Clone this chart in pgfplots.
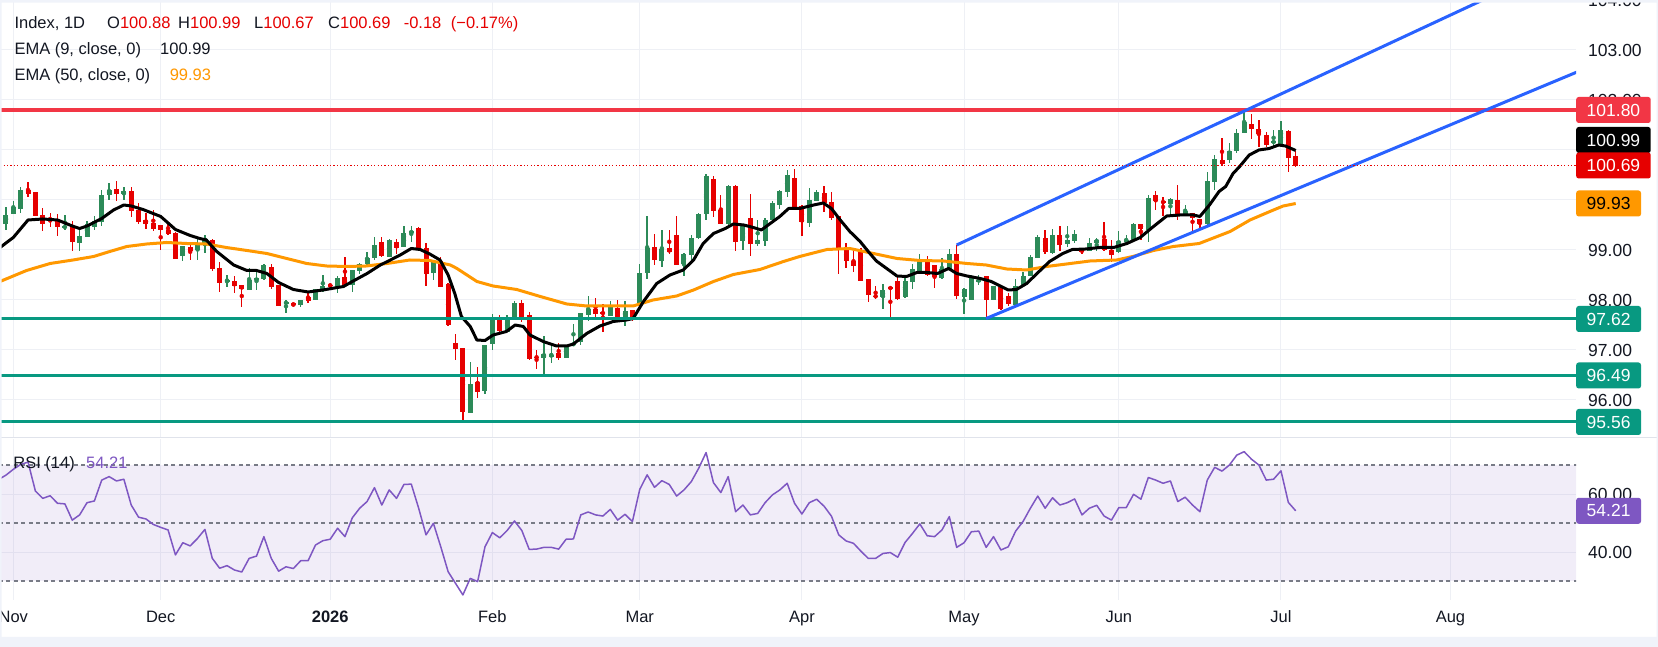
\documentclass[border=0pt]{standalone}
\usepackage{fontspec}
\setmainfont{Liberation Sans}
\usepackage{pgfplots}
\usepackage{pgfplotstable}
\pgfplotsset{compat=1.18}

\definecolor{upc}{RGB}{44,138,88}
\definecolor{dnc}{RGB}{230,0,0}
\definecolor{ema50}{RGB}{255,152,0}
\definecolor{chan}{RGB}{41,98,255}
\definecolor{resist}{RGB}{242,54,69}
\definecolor{supp}{RGB}{8,153,129}
\definecolor{rsic}{RGB}{126,87,194}
\definecolor{gridc}{RGB}{238,240,245}
\definecolor{txt}{RGB}{19,23,34}
\definecolor{framec}{RGB}{240,243,250}
\definecolor{sepc}{RGB}{224,227,235}
\definecolor{bandline}{RGB}{120,123,134}

% daily bars: x = trading-day index (0 = 3 Nov 2025)
\pgfplotstableread{
x o h l c
-1 99.52 99.85 99.40 99.70
0 99.72 99.99 99.72 99.87
1 99.82 100.25 99.73 100.20
2 100.20 100.35 100.05 100.12
3 100.16 100.16 99.67 99.68
4 99.70 99.85 99.39 99.53
5 99.63 99.73 99.45 99.61
6 99.62 99.72 99.28 99.47
7 99.45 99.70 99.40 99.47
8 99.48 99.58 98.99 99.15
9 99.15 99.40 98.99 99.28
10 99.27 99.57 99.25 99.52
11 99.47 99.67 99.40 99.58
12 99.57 100.21 99.48 100.10
13 100.10 100.35 100.01 100.20
14 100.22 100.38 99.98 100.13
15 100.11 100.27 100.00 100.18
16 100.18 100.25 99.65 99.78
17 99.81 99.95 99.53 99.57
18 99.60 99.73 99.41 99.52
19 99.55 99.80 99.37 99.43
20 99.49 99.50 99.01 99.39
21 99.40 99.57 99.30 99.32
22 99.35 99.35 98.81 98.83
23 98.87 99.07 98.77 99.07
24 99.05 99.13 98.80 98.97
25 98.99 99.23 98.79 99.10
26 99.10 99.30 98.93 99.25
27 99.21 99.23 98.59 98.62
28 98.65 98.75 98.15 98.35
29 98.35 98.51 98.27 98.40
30 98.38 98.48 98.15 98.27
31 98.29 98.29 97.87 98.21
32 98.20 98.63 98.20 98.40
33 98.39 98.57 98.19 98.43
34 98.43 98.73 98.41 98.70
35 98.65 98.72 98.21 98.25
36 98.29 98.30 97.87 97.88
37 97.93 98.00 97.75 97.96
38 97.93 97.94 97.88 97.89
39 97.90 98.01 97.87 98.00
40 98.07 98.17 97.93 97.99
41 98.00 98.23 98.00 98.21
42 98.20 98.50 98.17 98.27
43 98.30 98.31 98.27 98.28
44 98.25 98.48 98.15 98.45
45 98.45 98.87 98.27 98.30
46 98.30 98.61 98.17 98.60
47 98.59 98.75 98.52 98.73
48 98.72 98.97 98.68 98.85
49 98.85 99.25 98.80 99.11
50 99.15 99.25 98.85 98.87
51 98.87 99.21 98.85 99.20
52 99.16 99.23 98.92 99.05
53 99.05 99.48 99.05 99.33
54 99.35 99.48 99.17 99.37
55 99.45 99.47 99.01 99.02
56 99.03 99.13 98.27 98.52
57 98.55 98.77 98.39 98.77
58 98.78 98.87 98.27 98.27
59 98.31 98.33 97.48 97.50
60 97.13 97.33 96.80 97.02
61 97.03 97.03 95.59 95.75
62 95.75 96.77 95.75 96.33
63 96.35 96.65 96.03 96.15
64 96.19 97.11 96.13 97.11
65 97.11 97.72 97.00 97.59
66 97.61 97.70 97.30 97.39
67 97.37 97.71 97.37 97.63
68 97.63 97.97 97.63 97.95
69 97.93 98.01 97.57 97.59
70 97.70 97.75 96.80 96.83
71 96.87 97.00 96.61 96.84
72 96.83 97.27 96.52 96.92
73 96.88 97.07 96.73 96.90
74 96.93 97.15 96.81 96.83
75 96.85 97.10 96.85 97.10
76 97.10 97.53 97.10 97.13
77 97.15 97.73 97.10 97.73
78 97.69 98.07 97.57 97.81
79 97.83 98.05 97.67 97.72
80 97.75 97.93 97.37 97.73
81 97.69 97.97 97.67 97.89
82 97.85 98.00 97.61 97.63
83 97.65 97.97 97.48 97.78
84 97.80 97.81 97.59 97.63
85 97.87 98.73 97.87 98.53
86 98.55 99.68 98.43 99.05
87 99.05 99.32 98.70 98.79
88 98.79 99.40 98.67 99.02
89 99.03 99.40 98.93 98.95
90 99.30 99.68 98.71 98.71
91 98.73 98.95 98.48 98.92
92 98.90 99.30 98.73 99.25
93 99.25 99.75 99.23 99.73
94 99.73 100.52 99.60 100.48
95 100.42 100.47 99.65 99.78
96 99.80 100.10 99.52 99.52
97 99.52 100.30 99.47 100.28
98 100.28 100.30 98.99 99.17
99 99.17 99.52 99.00 99.50
100 99.65 100.13 98.88 99.12
101 99.12 99.60 99.07 99.21
102 99.19 99.63 99.07 99.61
103 99.61 99.97 99.60 99.95
104 99.91 100.20 99.81 100.18
105 100.17 100.60 100.05 100.50
106 100.43 100.62 99.83 99.83
107 99.88 99.90 99.28 99.55
108 99.55 100.23 99.45 100.00
109 99.97 100.19 99.97 100.15
110 100.15 100.28 99.77 99.95
111 99.95 100.15 99.60 99.63
112 99.68 99.68 98.52 99.01
113 99.02 99.13 98.63 98.79
114 98.78 99.00 98.55 98.69
115 99.00 99.03 98.37 98.38
116 98.41 98.41 97.97 98.09
117 98.08 98.28 98.01 98.07
118 98.05 98.33 97.82 98.20
119 98.25 98.28 97.65 98.23
120 98.38 98.47 98.00 98.02
121 98.05 98.47 98.03 98.38
122 98.35 98.72 98.21 98.62
123 98.57 98.92 98.57 98.82
124 98.80 98.88 98.48 98.50
125 98.70 98.70 98.23 98.47
126 98.45 98.85 98.43 98.62
127 98.61 99.03 98.60 98.93
128 98.92 99.10 98.03 98.08
129 98.07 98.25 97.73 98.23
130 98.00 98.50 98.00 98.47
131 98.38 98.50 98.30 98.40
132 98.48 98.48 97.63 98.00
133 98.00 98.28 98.00 98.28
134 98.25 98.25 97.81 97.82
135 98.09 98.13 97.87 97.92
136 97.90 98.43 97.90 98.28
137 98.28 98.57 98.27 98.48
138 98.48 98.90 98.48 98.85
139 98.85 99.30 98.83 99.27
140 99.25 99.40 98.93 98.97
141 98.95 99.42 98.93 99.30
142 99.30 99.48 98.97 99.10
143 99.13 99.48 99.07 99.20
144 99.17 99.40 99.15 99.32
145 99.03 99.05 98.92 98.95
146 98.97 99.23 98.97 99.13
147 99.15 99.23 98.97 99.21
148 99.21 99.55 98.97 98.99
149 98.99 99.19 98.75 98.89
150 98.95 99.38 98.93 99.18
151 99.18 99.30 99.10 99.19
152 99.19 99.53 99.17 99.52
153 99.52 99.53 99.20 99.42
154 99.40 100.10 99.17 100.05
155 100.10 100.19 99.80 99.98
156 99.97 100.05 99.67 99.95
157 99.92 100.03 99.72 100.01
158 100.01 100.30 99.60 99.68
159 99.69 99.90 99.67 99.77
160 99.73 99.75 99.38 99.63
161 99.63 99.63 99.45 99.53
162 99.52 100.57 99.49 100.39
163 100.37 100.90 100.21 100.82
164 100.80 101.25 100.68 100.72
165 100.79 101.15 100.75 100.98
166 100.98 101.42 100.95 101.35
167 101.35 101.77 101.35 101.57
168 101.52 101.73 101.23 101.42
169 101.42 101.59 101.05 101.32
170 101.30 101.37 101.07 101.09
171 101.15 101.41 101.08 101.17
172 101.10 101.58 101.08 101.40
173 101.38 101.40 100.55 100.85
174 100.88 100.99 100.67 100.69
}\ohlc

% EMA(9) of the close
\pgfplotstableread{
x v
-1.8 99.05
0 99.25
2 99.60
4 99.62
6 99.60
8 99.48
9 99.43
10 99.48
12 99.63
13.6 99.80
15 99.90
16 99.88
17.6 99.81
20 99.67
22 99.41
24 99.29
25.3 99.23
26.2 99.20
27.6 98.97
29.9 98.70
31.7 98.59
33 98.59
34.4 98.53
36 98.35
38 98.21
40 98.16
42 98.20
44.8 98.27
46 98.37
48 98.53
49.8 98.70
50.9 98.78
52.5 98.90
54 99.03
55.2 99.01
56.5 98.92
57.9 98.80
59 98.50
59.9 98.13
60.8 97.67
62 97.47
62.9 97.20
64 97.19
65.1 97.30
66.9 97.37
68.1 97.50
69.2 97.47
70.1 97.30
71.9 97.17
73.7 97.08
75.1 97.08
76 97.12
77.8 97.33
79.6 97.48
81.4 97.57
83.2 97.60
84.1 97.63
85.5 97.97
87.3 98.33
89.1 98.50
90.9 98.60
92.3 98.80
93.6 99.13
95 99.33
96.6 99.43
97.7 99.52
99.1 99.50
100.4 99.45
101.5 99.40
102.7 99.53
104 99.67
105.2 99.83
106.7 99.83
108.6 99.90
109.9 99.94
111 99.83
112.2 99.60
113.5 99.37
114.9 99.17
116 98.97
117.1 98.78
118.5 98.63
119.9 98.48
121.2 98.47
122.6 98.55
124 98.55
125.4 98.53
126.9 98.63
128 98.53
129.4 98.48
131.2 98.43
132.7 98.37
133.9 98.28
135 98.20
136.1 98.21
137.5 98.33
138.9 98.53
140.6 98.77
142.4 98.93
143.7 99.01
145.5 99.02
147.4 99.05
149.3 99.05
151.1 99.13
152.9 99.25
154.7 99.47
156.5 99.68
158.3 99.70
160.1 99.70
161 99.67
162.3 99.90
163.6 100.17
164.5 100.27
165.5 100.53
166.4 100.67
167.3 100.83
167.7 100.90
169 101.00
170.4 101.03
171.7 101.10
172.6 101.08
174 100.99
}\emafast

% EMA(50) of the close
\pgfplotstableread{
x v
-1.8 98.37
1.8 98.59
5 98.73
8.1 98.80
10.9 98.87
13.1 98.97
15.4 99.07
18.1 99.12
20.8 99.15
23.5 99.13
26.2 99.12
28.9 99.05
31.7 98.99
34.4 98.93
37.1 98.83
39.8 98.73
42.5 98.68
45.2 98.67
47.9 98.68
50.7 98.73
53.8 98.80
56.5 98.79
59.3 98.70
60.2 98.63
62.9 98.37
65.1 98.28
68.3 98.21
71.5 98.07
75.1 97.92
77.8 97.88
81.4 97.88
84.1 97.88
86.8 98.00
90 98.08
92.3 98.20
95 98.37
97.7 98.51
101.3 98.61
104.5 98.77
106.7 98.87
110.4 99.01
113.5 99.03
116.7 98.93
119.9 98.83
123 98.79
126.2 98.78
129.4 98.73
132 98.70
134.8 98.62
137.5 98.60
140.2 98.67
142.9 98.72
146.1 98.78
149.7 98.80
151.9 98.87
154.7 98.99
157.4 99.07
160.9 99.13
163 99.25
165.1 99.37
167.8 99.60
170.5 99.77
172.3 99.88
174 99.93
}\emaslow

% RSI(14)
\pgfplotstableread{
x r
-2 65.0
-1 66.5
0 68.5
1 70.2
2 71.0
3 61.0
4 58.5
5 59.4
6 56.8
7 56.6
8 51.0
9 52.8
10 57.0
11 57.6
12 64.8
13 66.0
14 64.5
15 65.1
16 56.2
17 52.0
18 51.4
19 49.5
20 48.5
21 47.6
22 39.0
23 43.2
24 42.1
25 44.7
26 47.8
27 37.8
28 34.4
29 35.3
30 33.8
31 33.1
32 37.8
33 38.6
34 45.3
35 37.8
36 33.4
37 34.9
38 34.3
39 37.0
40 37.0
41 42.4
42 43.9
43 44.4
44 48.2
45 45.3
46 51.8
47 55.1
48 57.4
49 62.2
50 56.2
51 61.4
52 58.5
53 63.3
54 63.4
55 55.1
56 45.9
57 49.9
58 41.8
59 33.2
60 29.2
61 25.2
62 30.9
63 29.8
64 41.8
65 46.7
66 44.9
67 47.4
68 50.7
69 47.4
70 40.9
71 41.0
72 41.6
73 41.6
74 41.0
75 44.4
76 44.5
77 52.8
78 53.8
79 52.8
80 52.4
81 54.7
82 51.0
83 53.0
84 50.5
85 61.6
86 66.6
87 62.3
88 64.6
89 63.3
90 59.3
91 61.4
92 64.3
93 68.9
94 74.3
95 63.9
96 60.5
97 66.0
98 53.9
99 56.2
100 52.8
101 53.3
102 57.0
103 59.7
104 61.4
105 63.7
106 56.8
107 53.1
108 57.0
109 58.2
110 55.8
111 52.4
112 45.9
113 43.8
114 43.0
115 40.3
116 37.8
117 37.8
118 39.5
119 39.8
120 38.2
121 43.3
122 46.4
123 49.7
124 45.6
125 45.3
126 47.6
127 52.2
128 41.6
129 43.2
130 47.0
131 47.2
132 41.6
133 45.3
134 40.7
135 41.8
136 47.2
137 50.5
138 55.1
139 59.3
140 55.1
141 58.7
142 56.2
143 57.0
144 58.3
145 52.8
146 55.1
147 56.1
148 52.4
149 51.0
150 55.3
151 55.3
152 59.9
153 58.2
154 65.7
155 64.8
156 63.7
157 64.5
158 57.4
159 58.9
160 56.2
161 53.9
162 64.8
163 69.2
164 67.9
165 70.0
166 73.4
167 74.6
168 72.0
169 70.0
170 64.8
171 65.1
172 68.0
173 57.1
174 54.21
}\rsi

\def\xL{-1.805}
\def\xR{212.03}
\newcommand\lblfont{\fontsize{16.5}{19}\selectfont}
\newcommand\scalefont{\fontsize{17.5}{20}\selectfont}

\pgfplotsset{
  chartbase/.style={
    scale only axis, width=1576pt,
    xmin=\xL, xmax=\xR,
    axis line style={draw=none}, tick style={draw=none}, major tick length=0pt,
    xtick={0,20,43,65,85,107,129,150,172,195},
    xmajorgrids, ymajorgrids, grid style={gridc, line width=1pt},
    clip mode=individual,
    yticklabel pos=right,
    yticklabel={\pgfmathprintnumber[fixed,fixed zerofill,precision=2,assume math mode=true]{\tick}},
    yticklabel style={anchor=west, inner sep=0pt, xshift=12pt, font=\scalefont, text=txt},
  },
  upbar/.style={only marks, mark=none, forget plot, color=upc,
    restrict expr to domain={\thisrow{c}-\thisrow{o}}{0:50}},
  dnbar/.style={only marks, mark=none, forget plot, color=dnc,
    restrict expr to domain={\thisrow{c}-\thisrow{o}}{-50:-0.000001}},
  wick/.style={error bars/.cd, y dir=both, y explicit, error mark=none,
    error bar style={line width=1.3pt}},
  body/.style={error bars/.cd, y dir=both, y explicit, error mark=none,
    error bar style={line width=5pt}},
}

\begin{document}
\begin{tikzpicture}
\path[use as bounding box] (0pt,0pt) rectangle (1658pt,647pt);
\clip (0pt,0pt) rectangle (1658pt,647pt);
\fill[white] (0pt,0pt) rectangle (1658pt,647pt);

% price panel (the 100 and 101 scale labels sit under the price tags)
\begin{axis}[chartbase, at={(0pt,210pt)}, anchor=south west, height=437pt,
  ymin=95.26, ymax=104, ytick={96,97,98,99,100,101,102,103,104},
  yticklabels={96.00,97.00,98.00,99.00,,,102.00,103.00,104.00},
  xticklabels={}]
  \addplot[upbar, wick] table[x=x, y expr={(\thisrow{h}+\thisrow{l})/2}, y error expr={(\thisrow{h}-\thisrow{l})/2}] {\ohlc};
  \addplot[dnbar, wick] table[x=x, y expr={(\thisrow{h}+\thisrow{l})/2}, y error expr={(\thisrow{h}-\thisrow{l})/2}] {\ohlc};
  \addplot[upbar, body] table[x=x, y expr={(\thisrow{o}+\thisrow{c})/2}, y error expr={max(abs(\thisrow{c}-\thisrow{o})/2,0.012)}] {\ohlc};
  \addplot[dnbar, body] table[x=x, y expr={(\thisrow{o}+\thisrow{c})/2}, y error expr={max(abs(\thisrow{c}-\thisrow{o})/2,0.012)}] {\ohlc};
  \addplot[ema50, line width=3pt, line join=round] table[x=x, y=v] {\emaslow};
  \addplot[black, line width=3pt, line join=round] table[x=x, y=v] {\emafast};
  \addplot[resist, line width=3.2pt] coordinates {(-5,101.80) (215,101.80)};
  \addplot[supp, line width=3pt] coordinates {(-5,97.62) (215,97.62)};
  \addplot[supp, line width=3pt] coordinates {(-5,96.49) (215,96.49)};
  \addplot[supp, line width=3pt] coordinates {(-5,95.56) (215,95.56)};
  \addplot[chan, line width=3pt] coordinates {(128,99.10) (212.5,104.90)};
  \addplot[chan, line width=3pt] coordinates {(132,97.63) (212.5,102.58)};
  \addplot[dnc, line width=1.1pt, dash pattern=on 1.1pt off 2.3pt] coordinates {(-5,100.69) (215,100.69)};
  \coordinate (lR) at (axis cs:\xR,101.80);
  \coordinate (lE9) at (axis cs:\xR,100.99);
  \coordinate (lC) at (axis cs:\xR,100.69);
  \coordinate (lE50) at (axis cs:\xR,99.93);
  \coordinate (lS1) at (axis cs:\xR,97.62);
  \coordinate (lS2) at (axis cs:\xR,96.49);
  \coordinate (lS3) at (axis cs:\xR,95.56);
\end{axis}

% RSI panel
\begin{axis}[chartbase, at={(0pt,47pt)}, anchor=south west, height=161pt,
  ymin=23.45, ymax=78.97, ytick={40,60},
  xticklabels={Nov,Dec,\textbf{2026},Feb,Mar,Apr,May,Jun,Jul,Aug},
  xticklabel style={anchor=base, inner sep=0pt, yshift=-23pt, font=\lblfont, text=txt}]
  \addplot[draw=none, fill=rsic, fill opacity=0.1] coordinates {(-5,30) (-5,70) (215,70) (215,30)} -- cycle;
  \addplot[bandline, line width=1.2pt, dash pattern=on 4pt off 3.5pt] coordinates {(-5,70) (215,70)};
  \addplot[bandline, line width=1.2pt, dash pattern=on 4pt off 3.5pt] coordinates {(-5,50) (215,50)};
  \addplot[bandline, line width=1.2pt, dash pattern=on 4pt off 3.5pt] coordinates {(-5,30) (215,30)};
  \addplot[rsic, line width=1.5pt, line join=round] table[x=x, y=r] {\rsi};
  \coordinate (lRSI) at (axis cs:\xR,54.21);
\end{axis}

% panel separator
\draw[sepc, line width=1.5pt] (0pt,209.5pt) -- (1658pt,209.5pt);

% price-scale tags
\tikzset{tag/.style={anchor=west, rounded corners=2.5pt, inner xsep=10.5pt, inner ysep=0pt,
  minimum height=26pt, text=white, font=\scalefont}}
\node[tag, fill=resist] at (lR) {101.80};
\node[tag, fill=black, yshift=10.5pt] at (lE9) {100.99};
\node[tag, fill=dnc] at (lC) {100.69};
\node[tag, fill=ema50, text=black] at (lE50) {99.93};
\node[tag, fill=supp] at (lS1) {97.62};
\node[tag, fill=supp] at (lS2) {96.49};
\node[tag, fill=supp] at (lS3) {95.56};
\node[tag, fill=rsic] at (lRSI) {54.21};

% legends
\tikzset{lbl/.style={anchor=base west, inner sep=0pt, font=\lblfont, text=txt}}
\node[lbl] at (14.3pt,618pt) {Index, 1D};
\node[lbl] at (107pt,618pt) {O\textcolor{dnc}{100.88}};
\node[lbl] at (178pt,618pt) {H\textcolor{dnc}{100.99}};
\node[lbl] at (254pt,618pt) {L\textcolor{dnc}{100.67}};
\node[lbl] at (328pt,618pt) {C\textcolor{dnc}{100.69}};
\node[lbl, text=dnc] at (403.6pt,618pt) {-0.18};
\node[lbl, text=dnc] at (450.7pt,618pt) {(−0.17\%)};
\node[lbl] at (14.3pt,592pt) {EMA (9, close, 0)};
\node[lbl] at (160pt,592pt) {100.99};
\node[lbl] at (14.3pt,566pt) {EMA (50, close, 0)};
\node[lbl, text=ema50] at (169.6pt,566pt) {99.93};
\node[lbl] at (13.2pt,178pt) {RSI (14)};
\node[lbl, text=rsic] at (86pt,178pt) {54.21};

% window frame
\fill[framec, even odd rule] (0pt,0pt) rectangle (1658pt,647pt) (1.7pt,10pt) rectangle (1656.5pt,644.3pt);
\end{tikzpicture}
\end{document}
